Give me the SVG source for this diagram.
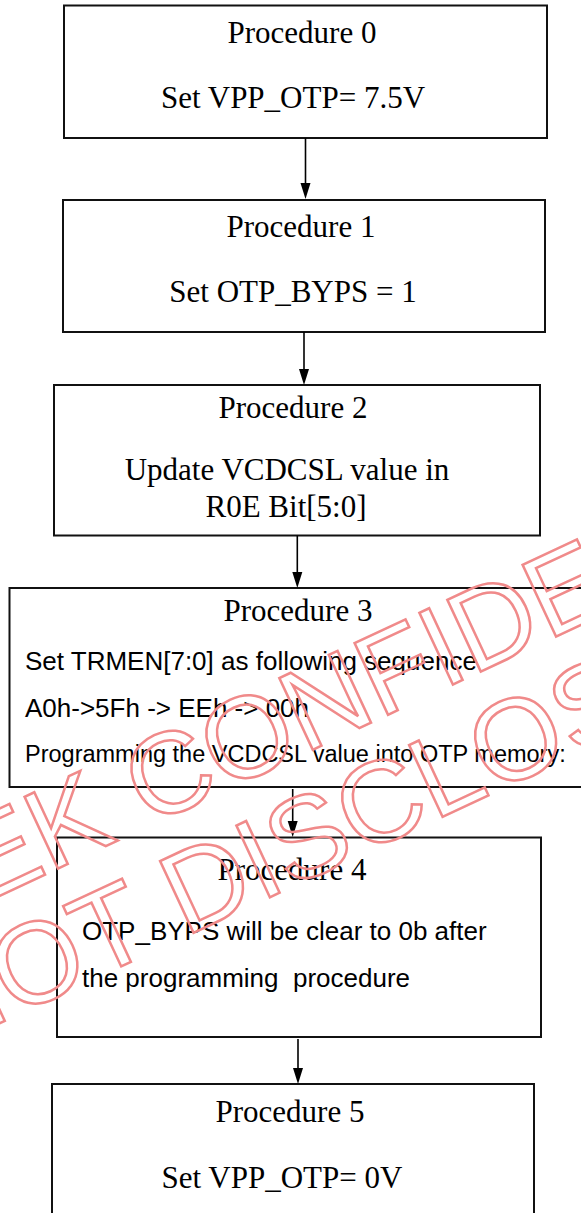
<svg xmlns="http://www.w3.org/2000/svg" width="581" height="1213" viewBox="0 0 581 1213">
<style>
.box{fill:#fff;stroke:#111;stroke-width:2}
.ser{font-family:"Liberation Serif","Times New Roman",serif;font-size:31px;fill:#000;text-anchor:middle}
.san{font-family:"Liberation Sans",Arial,sans-serif;font-size:26px;fill:#000}
.san2{font-family:"Liberation Sans",Arial,sans-serif;font-size:23.5px;fill:#000}
.con{stroke:#000;stroke-width:1.6;fill:none}
.ah{fill:#000}
.wm{font-family:"Liberation Sans",Arial,sans-serif;font-size:115px;fill:none;stroke:#f08a8a;stroke-width:2.5}
</style>
<g id="node0">
<rect class="box" x="64" y="5.5" width="483" height="132.5"/>
<text class="ser" x="302" y="43">Procedure 0</text>
<text class="ser" x="293" y="108">Set VPP_OTP= 7.5V</text>
</g>
<g id="node1">
<rect class="box" x="63" y="200" width="482" height="132"/>
<text class="ser" x="301" y="237">Procedure 1</text>
<text class="ser" x="293" y="302">Set OTP_BYPS = 1</text>
</g>
<g id="node2">
<rect class="box" x="54" y="385" width="486" height="150.5"/>
<text class="ser" x="293" y="418">Procedure 2</text>
<text class="ser" x="287" y="480">Update VCDCSL value in</text>
<text class="ser" x="286" y="517">R0E Bit[5:0]</text>
</g>
<g id="node3">
<rect class="box" x="9.5" y="588" width="580" height="199"/>
<text class="ser" x="298" y="621">Procedure 3</text>
<text class="san" x="25" y="670">Set TRMEN[7:0] as following sequence</text>
<text class="san" x="25" y="717">A0h-&gt;5Fh -&gt; EEh -&gt; 00h</text>
<text class="san2" x="25" y="762">Programming the VCDCSL value into OTP memory:</text>
</g>
<g id="node4">
<rect class="box" x="57" y="837.5" width="484" height="199.5"/>
<text class="ser" x="292" y="880">Procedure 4</text>
<text class="san" x="82" y="940">OTP_BYPS will be clear to 0b after</text>
<text class="san" x="82" y="987" xml:space="preserve">the programming  procedure</text>
</g>
<g id="node5">
<rect class="box" x="52" y="1084" width="482" height="140"/>
<text class="ser" x="290" y="1122">Procedure 5</text>
<text class="ser" x="282" y="1188">Set VPP_OTP= 0V</text>
</g>
<g id="connectors">
<line class="con" x1="305.5" y1="138" x2="305.5" y2="183"/>
<path class="ah" d="M300.5,183 L310.5,183 L305.5,199 Z"/>
<line class="con" x1="304" y1="332" x2="304" y2="369"/>
<path class="ah" d="M299,369 L309,369 L304,385 Z"/>
<line class="con" x1="297.3" y1="535.5" x2="297.3" y2="572"/>
<path class="ah" d="M292.3,572 L302.3,572 L297.3,588 Z"/>
<line class="con" x1="292.7" y1="789" x2="292.7" y2="821"/>
<path class="ah" d="M287.7,821 L297.7,821 L292.7,837 Z"/>
<line class="con" x1="298" y1="1039" x2="298" y2="1068"/>
<path class="ah" d="M293,1068 L303,1068 L298,1084 Z"/>
</g>
<g id="watermark">
<text class="wm" transform="translate(-20,905) rotate(-25)">EK CONFIDE</text>
<text class="wm" transform="translate(-62,1052) rotate(-25)">NOT DISCLOS</text>
</g>
</svg>
